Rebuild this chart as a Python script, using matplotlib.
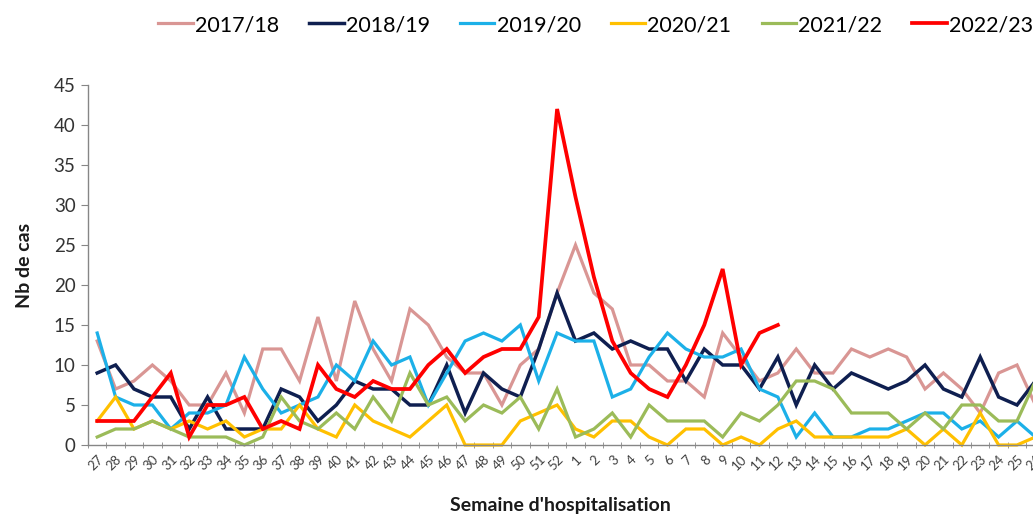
import matplotlib
matplotlib.use("Agg")
import matplotlib.pyplot as plt
from matplotlib.ticker import MultipleLocator, FixedLocator

weeks = [str(w) for w in list(range(27, 53)) + list(range(1, 27))]

s2017 = [13, 7, 8, 10, 8, 5, 5, 9, 4, 12, 12, 8, 16, 8, 18, 12, 8, 17, 15, 11, 9, 9, 5, 10, 12, 19,
         25, 19, 17, 10, 10, 8, 8, 6, 14, 11, 8, 9, 12, 9, 9, 12, 11, 12, 11, 7, 9, 7, 4, 9, 10, 5]
s2018 = [9, 10, 7, 6, 6, 2, 6, 2, 2, 2, 7, 6, 3, 5, 8, 7, 7, 5, 5, 10, 4, 9, 7, 6, 12, 19,
         13, 14, 12, 13, 12, 12, 8, 12, 10, 10, 7, 11, 5, 10, 7, 9, 8, 7, 8, 10, 7, 6, 11, 6, 5, 8]
s2019 = [14, 6, 5, 5, 2, 4, 4, 5, 11, 7, 4, 5, 6, 10, 8, 13, 10, 11, 5, 9, 13, 14, 13, 15, 8, 14,
         13, 13, 6, 7, 11, 14, 12, 11, 11, 12, 7, 6, 1, 4, 1, 1, 2, 2, 3, 4, 4, 2, 3, 1, 3, 1]
s2020 = [3, 6, 2, 3, 2, 3, 2, 3, 1, 2, 2, 5, 2, 1, 5, 3, 2, 1, 3, 5, 0, 0, 0, 3, 4, 5,
         2, 1, 3, 3, 1, 0, 2, 2, 0, 1, 0, 2, 3, 1, 1, 1, 1, 1, 2, 0, 2, 0, 4, 0, 0, 1]
s2021 = [1, 2, 2, 3, 2, 1, 1, 1, 0, 1, 6, 3, 2, 4, 2, 6, 3, 9, 5, 6, 3, 5, 4, 6, 2, 7,
         1, 2, 4, 1, 5, 3, 3, 3, 1, 4, 3, 5, 8, 8, 7, 4, 4, 4, 2, 4, 2, 5, 5, 3, 3, 8]
s2022 = [3, 3, 3, 6, 9, 1, 5, 5, 6, 2, 3, 2, 10, 7, 6, 8, 7, 7, 10, 12, 9, 11, 12, 12, 16, 42,
         31, 21, 13, 9, 7, 6, 10, 15, 22, 10, 14, 15]

series = [
    ("2017/18", s2017, "#D99694", 2.3),
    ("2018/19", s2018, "#0F1F50", 2.5),
    ("2019/20", s2019, "#1CB0E8", 2.3),
    ("2020/21", s2020, "#FFC000", 2.3),
    ("2021/22", s2021, "#9BBB59", 2.3),
    ("2022/23", s2022, "#FF0000", 2.7),
]

plt.rcParams['font.family'] = ['Lato', 'DejaVu Sans']

fig = plt.figure(figsize=(10.33, 5.18), dpi=100)
W, H = 1033, 518
x0, x1 = 88, 1044.6
y0, y1 = 445, 85
ax = fig.add_axes([x0 / W, (H - y0) / H, (x1 - x0) / W, (y0 - y1) / H])

xs = list(range(len(weeks)))
handles = []
for label, vals, color, lw in series:
    h, = ax.plot(xs[:len(vals)], vals, color=color, lw=lw, label=label,
                 solid_joinstyle='miter', clip_on=False)
    handles.append(h)

ax.set_xlim(-0.5, len(weeks) - 0.5)
ax.set_ylim(0, 45)
ax.yaxis.set_major_locator(MultipleLocator(5))
ax.set_xticks(xs)
ax.set_xticklabels(weeks, rotation=45, ha='right', rotation_mode='anchor',
                   fontsize=9.5, color='#404040')
ax.xaxis.set_minor_locator(FixedLocator([i - 0.5 for i in range(len(weeks) + 1)]))
ax.tick_params(axis='x', which='major', length=0, pad=6)
ax.tick_params(axis='x', which='minor', length=4, direction='inout', color='#868686')
ax.tick_params(axis='y', length=5, direction='out', color='#868686',
               labelsize=13.5, labelcolor='#333333', pad=4)

for s in ['top', 'right']:
    ax.spines[s].set_visible(False)
for s in ['left', 'bottom']:
    ax.spines[s].set_color('#868686')
    ax.spines[s].set_linewidth(1.0)

fig.text(25 / W, 1 - 265 / H, "Nb de cas", rotation=90, ha='center', va='center',
         fontsize=14, fontweight='bold', color='#1a1a1a')
fig.text(560 / W, 1 - 506 / H, "Semaine d'hospitalisation", ha='center', va='center',
         fontsize=14, fontweight='bold', color='#1a1a1a')

fig.legend(handles=handles, loc='center right', bbox_to_anchor=(1.0, 1 - 25 / H),
           ncol=6, frameon=False, fontsize=15.5, handlelength=1.6, handletextpad=0.1,
           columnspacing=1.4, borderaxespad=0, borderpad=0)

fig.savefig("out.png", dpi=100, facecolor='white')
